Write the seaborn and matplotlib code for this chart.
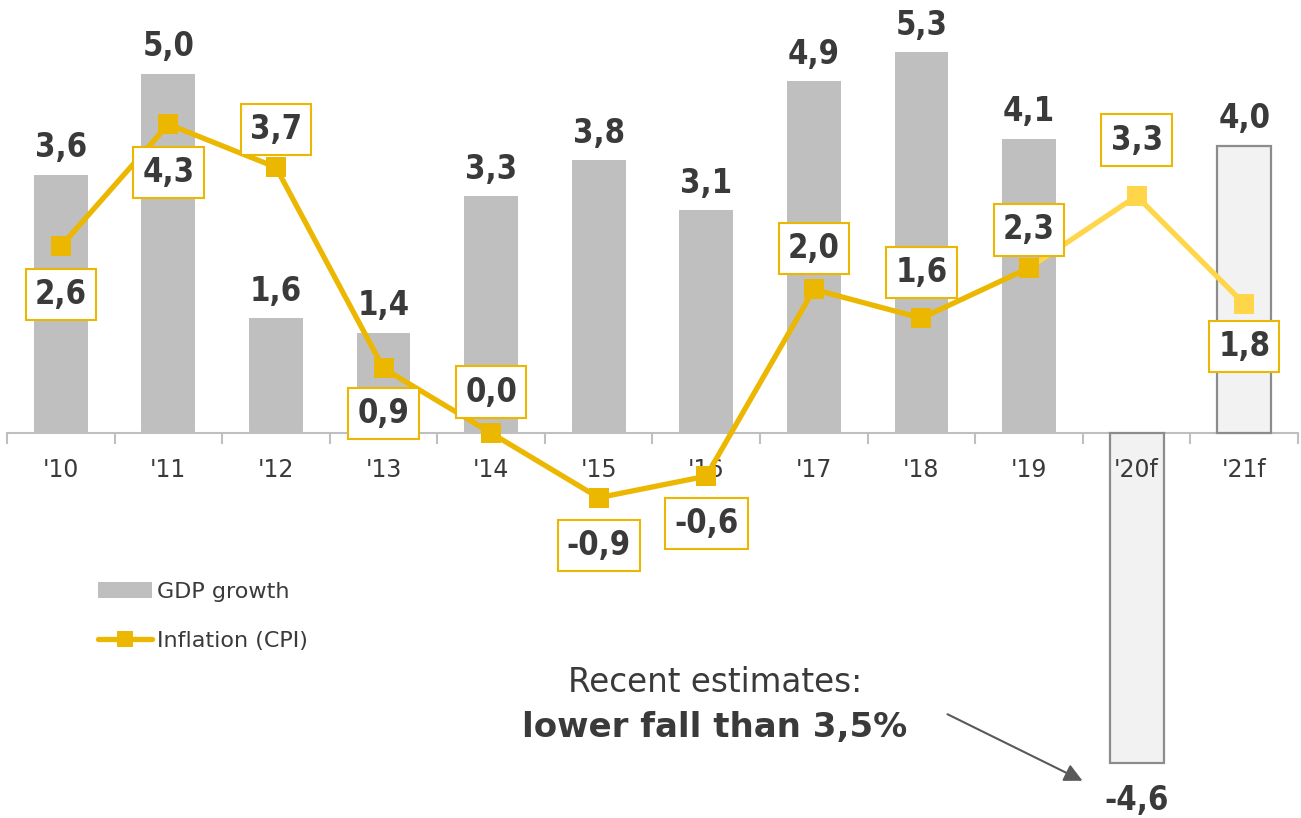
import numpy as np
import pandas as pd
import matplotlib
matplotlib.use("Agg")
import matplotlib.pyplot as plt
from matplotlib.patches import Patch
from matplotlib.lines import Line2D
import seaborn as sns

years = ["'10", "'11", "'12", "'13", "'14", "'15", "'16", "'17", "'18", "'19", "'20f", "'21f"]
gdp_growth = [3.6, 5.0, 1.6, 1.4, 3.3, 3.8, 3.1, 4.9, 5.3, 4.1, -4.6, 4.0]
inflation = [2.6, 4.3, 3.7, 0.9, 0.0, -0.9, -0.6, 2.0, 1.6, 2.3, 3.3, 1.8]
forecast = [False] * 10 + [True, True]

# vertical offset (pixels) of each inflation label box from its marker
infl_label_offset = [-48, -48, 38, -45, 41, -48, -47, 41, 46, 38, 56, -43]

BAR = "#BFBFBF"
BAR_FC = "#F2F2F2"
BAR_FC_EDGE = "#8C8C8C"
GOLD = "#EBB700"
GOLD_LIGHT = "#FFD54A"
TXT = "#3A3A3A"

sns.set_theme(style="white")
plt.rcParams["font.family"] = ["DejaVu Sans"]

W, H, DPI = 1301, 818, 100
fig = plt.figure(figsize=(W / DPI, H / DPI), dpi=DPI)
ax = fig.add_axes([7 / W, 0, 1291 / W, 1])

df = pd.DataFrame({"year": years, "gdp": gdp_growth, "kind": ["f" if f else "a" for f in forecast]})
sns.barplot(data=df, x="year", y="gdp", hue="kind", palette={"a": BAR, "f": BAR_FC},
            width=0.5, dodge=False, legend=False, ax=ax, saturation=1, zorder=1)
for patch, f in zip(ax.patches, forecast):
    if f:
        patch.set_edgecolor(BAR_FC_EDGE)
        patch.set_linewidth(1.6)
    else:
        patch.set_edgecolor("none")

xs = np.arange(len(years))
line_df = pd.DataFrame({"x": xs, "v": inflation})
# forecast segment starts from the last actual year
sns.lineplot(data=line_df.iloc[9:], x="x", y="v", color=GOLD_LIGHT, lw=3.8,
             marker="s", markersize=15, markeredgewidth=0, ax=ax, zorder=3)
sns.lineplot(data=line_df.iloc[:10], x="x", y="v", color=GOLD, lw=3.8,
             marker="s", markersize=15, markeredgewidth=0, ax=ax, zorder=3)

ax.set_axisbelow(False)
ax.set_xlim(-0.5, len(years) - 0.5)
ax.set_ylim(-5.36, 6.03)
ax.set_xlabel("")
ax.set_ylabel("")
ax.set_yticks([])
for s in ["top", "right", "left"]:
    ax.spines[s].set_visible(False)
ax.spines["bottom"].set_position(("data", 0))
ax.spines["bottom"].set_color("#BFBFBF")
ax.spines["bottom"].set_linewidth(1.5)
ax.spines["bottom"].set_zorder(0.5)
ax.set_xticks(xs)
ax.set_xticklabels(years, fontsize=17, color=TXT)
ax.set_xticks(np.arange(-0.5, len(years)), minor=True)
ax.tick_params(axis="x", which="major", length=0, pad=18)
ax.tick_params(axis="x", which="minor", length=8, width=1.5, color="#BFBFBF", direction="out", bottom=True)

label_font = dict(fontsize=23.5, fontweight="bold", fontstretch="condensed", color=TXT)

# GDP value labels
for x, v in zip(xs, gdp_growth):
    off = 27 if v >= 0 else -37
    ax.annotate(f"{v:.1f}".replace(".", ","), (x, v), xytext=(0, off * 0.72),
                textcoords="offset points", ha="center", va="center", zorder=5, **label_font)

# inflation value labels in boxes
for x, v, off in zip(xs, inflation, infl_label_offset):
    ax.annotate(f"{v:.1f}".replace(".", ","), (x, v), xytext=(0, off * 0.72),
                textcoords="offset points", ha="center", va="center", zorder=6,
                bbox=dict(boxstyle="square,pad=0.28", fc="white", ec=GOLD, lw=1.5),
                **label_font)

# legend
handles = [Patch(facecolor=BAR, edgecolor="none", label="GDP growth"),
           Line2D([0], [0], color=GOLD, lw=3.8, marker="s", markersize=12,
                  markeredgewidth=0, label="Inflation (CPI)")]
fig.legend(handles=handles, loc="upper left", bbox_to_anchor=(78 / W, 1 - 562 / H),
           frameon=False, fontsize=16, handlelength=2.45, handletextpad=0.2,
           labelspacing=1.3, labelcolor=TXT)

# comment on the forecast
fig.text(715 / W, 1 - 683 / H, "Recent estimates:", ha="center", va="center",
         fontsize=23.5, color=TXT)
fig.text(715 / W, 1 - 727 / H, "lower fall than 3,5%", ha="center", va="center",
         fontsize=24.5, fontweight="bold", color=TXT)
ax.annotate("", xy=(1085 / W, 1 - 782 / H), xytext=(945 / W, 1 - 713 / H),
            xycoords="figure fraction", textcoords="figure fraction",
            arrowprops=dict(arrowstyle="-|>,head_length=0.9,head_width=0.45",
                            color="#595959", lw=1.5))

fig.savefig("out.png", dpi=DPI)
